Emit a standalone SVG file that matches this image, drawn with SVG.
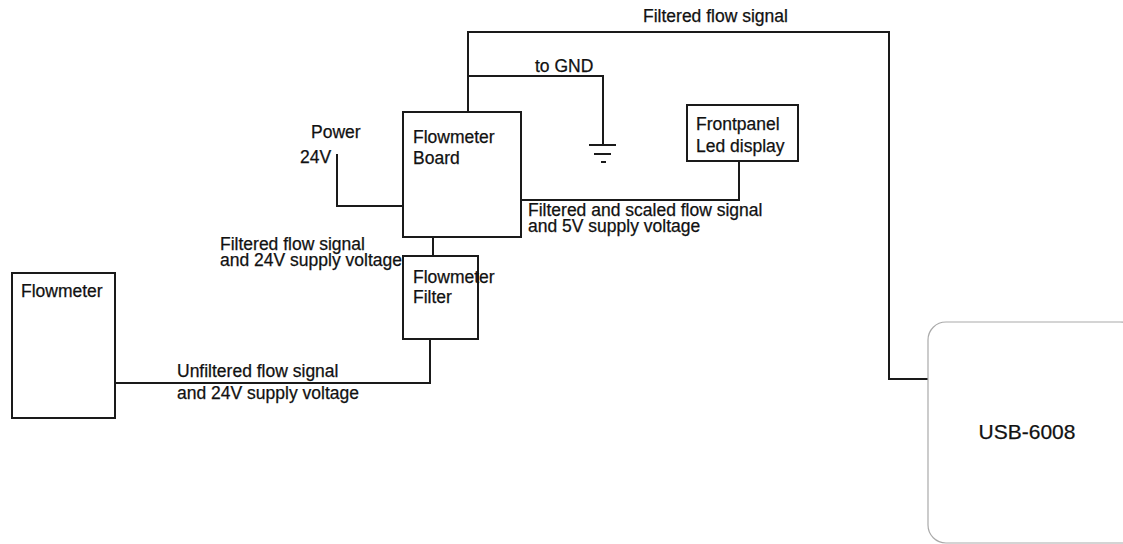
<svg xmlns="http://www.w3.org/2000/svg" width="1123" height="544" viewBox="0 0 1123 544">
<style>
.box{fill:#fff;stroke:#1a1a1a;stroke-width:2}
.usb{fill:#fff;stroke:#aaa;stroke-width:1.2}
.w{fill:none;stroke:#1a1a1a;stroke-width:2}
text{font-family:"Liberation Sans",Arial,sans-serif;font-size:17.5px;fill:#111;stroke:#111;stroke-width:0.25}
</style>
<rect width="1123" height="544" fill="#fff"/>
<g id="connectors">
<polyline class="w" points="468,112 468,32 889,32 889,379 928,379"/>
<polyline class="w" points="468,76 603,76 603,145"/>
<line class="w" x1="589" y1="145" x2="616" y2="145"/>
<line class="w" x1="594" y1="154" x2="611" y2="154"/>
<line class="w" x1="601" y1="162" x2="606" y2="162"/>
<polyline class="w" points="337,154 337,206 403,206"/>
<polyline class="w" points="521,200 739,200 739,161"/>
<line class="w" x1="433" y1="237" x2="433" y2="256"/>
<polyline class="w" points="430,339 430,383 115,383"/>
<text x="643" y="22">Filtered flow signal</text>
<text x="535" y="72">to GND</text>
<text x="311" y="138">Power</text>
<text x="300" y="163">24V</text>
<text x="528" y="216">Filtered and scaled flow signal</text>
<text x="528" y="232">and 5V supply voltage</text>
<text x="220" y="250">Filtered flow signal</text>
<text x="220" y="266">and 24V supply voltage</text>
<text x="177" y="377">Unfiltered flow signal</text>
<text x="177" y="399">and 24V supply voltage</text>
</g>
<g id="board">
<rect class="box" x="403" y="112" width="118" height="125"/>
<text x="413" y="143">Flowmeter</text>
<text x="413" y="164">Board</text>
</g>
<g id="frontpanel">
<rect class="box" x="687" y="105" width="111" height="56"/>
<text x="696" y="130">Frontpanel</text>
<text x="696" y="152">Led display</text>
</g>
<g id="filter">
<rect class="box" x="403" y="256" width="75" height="83"/>
<text x="413" y="283">Flowmeter</text>
<text x="413" y="303">Filter</text>
</g>
<g id="flowmeter">
<rect class="box" x="12" y="273" width="103" height="145"/>
<text x="21" y="297">Flowmeter</text>
</g>
<g id="usb">
<rect class="usb" x="928" y="322" width="210" height="221" rx="18"/>
<text x="1027" y="439" text-anchor="middle" style="font-size:21px">USB-6008</text>
</g>
</svg>
